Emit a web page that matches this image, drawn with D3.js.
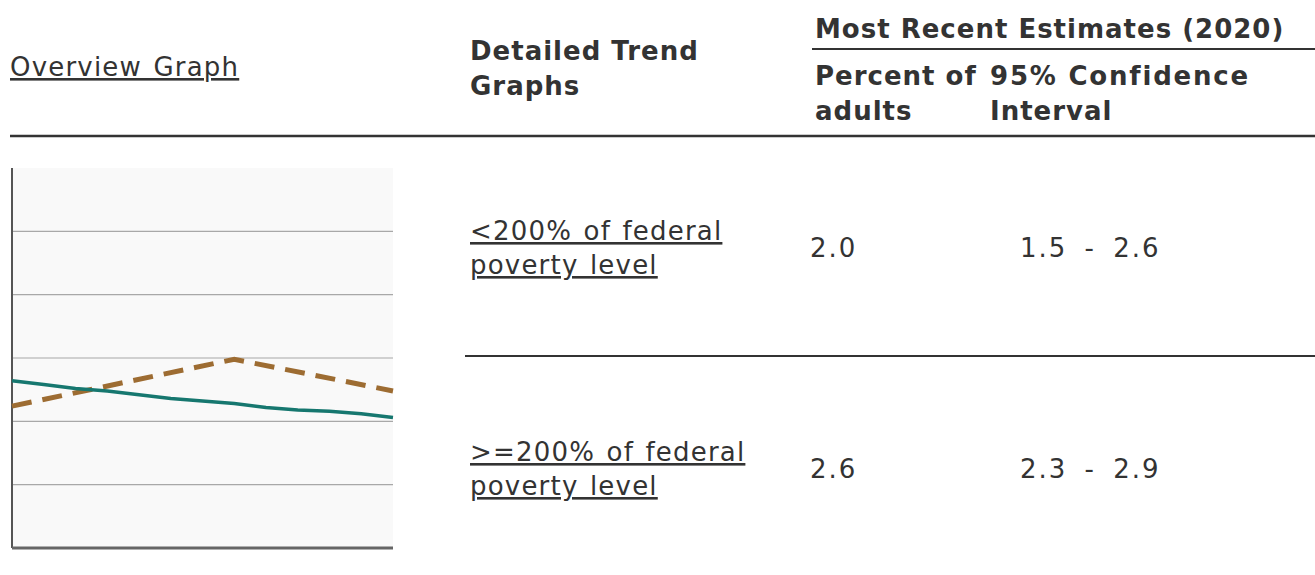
<!DOCTYPE html>
<html>
<head>
<meta charset="utf-8">
<script src="https://cdn.jsdelivr.net/npm/d3@7"></script>
<style>
  body { margin: 0; background: #fff; }
  text { font-family: "DejaVu Sans", Verdana, sans-serif; fill: #333; }
  .hdr { font-weight: bold; font-size: 26px; letter-spacing: 1px; }
  .cell { font-size: 26px; letter-spacing: 1.2px; word-spacing: 2px; }
  .ci { word-spacing: 7px; letter-spacing: 2px; }
  .link { text-decoration: underline; }
</style>
</head>
<body>
<div id="chart"></div>
<script>
// overview graph data
var years = [2008, 2009, 2010, 2011, 2012, 2013, 2014, 2015, 2016, 2017, 2018, 2019, 2020];
var solidValues = [1.32, 1.29, 1.26, 1.24, 1.21, 1.18, 1.16, 1.14, 1.11, 1.09, 1.08, 1.06, 1.03];
var dashedYears = [2008, 2015, 2020];
var dashedValues = [1.12, 1.49, 1.24];
var gridTicks = [0.5, 1, 1.5, 2, 2.5];

// table data
var groupLines = [["<200% of federal", "poverty level"], [">=200% of federal", "poverty level"]];
var percents = ["2.0", "2.6"];
var ciLow = ["1.5", "2.3"];
var ciHigh = ["2.6", "2.9"];

var svgWidth = 1315;
var svgHeight = 575;

var svg = d3.select("#chart")
    .append("svg")
    .attr("width", svgWidth)
    .attr("height", svgHeight);

// header
svg.append("text")
    .attr("class", "cell link")
    .attr("x", 10)
    .attr("y", 76)
    .text("Overview Graph");

svg.append("text").attr("class", "hdr").attr("x", 470).attr("y", 60).text("Detailed Trend");
svg.append("text").attr("class", "hdr").attr("x", 470).attr("y", 95).text("Graphs");
svg.append("text").attr("class", "hdr").attr("x", 815).attr("y", 38).text("Most Recent Estimates (2020)");
svg.append("text").attr("class", "hdr").attr("x", 815).attr("y", 85).text("Percent of");
svg.append("text").attr("class", "hdr").attr("x", 815).attr("y", 120).text("adults");
svg.append("text").attr("class", "hdr").attr("x", 990).attr("y", 85)
    .style("letter-spacing", "1.8px")
    .text("95% Confidence");
svg.append("text").attr("class", "hdr").attr("x", 990).attr("y", 120).text("Interval");

svg.append("line")
    .attr("x1", 812).attr("x2", 1315)
    .attr("y1", 49).attr("y2", 49)
    .attr("stroke", "#333").attr("stroke-width", 2);

svg.append("line")
    .attr("x1", 10).attr("x2", 1315)
    .attr("y1", 136).attr("y2", 136)
    .attr("stroke", "#333").attr("stroke-width", 2.5);

// table rows
var rowScale = d3.scalePoint()
    .domain(d3.range(groupLines.length))
    .range([247, 468]);

var rows = svg.selectAll(".row")
    .data(groupLines)
    .enter()
    .append("g")
    .attr("class", "row")
    .attr("transform", (d, i) => `translate(0, ${rowScale(i)})`);

rows.each(function(d) {
    var g = d3.select(this);
    d.forEach(function(line, j) {
        g.append("text")
            .attr("class", "cell link")
            .attr("x", 470)
            .attr("y", -7 + j * 34)
            .text(line);
    });
});

rows.append("text")
    .attr("class", "cell")
    .attr("x", 810)
    .attr("y", 10)
    .style("letter-spacing", "2px")
    .text((d, i) => percents[i]);

rows.append("text")
    .attr("class", "cell ci")
    .attr("x", 1020)
    .attr("y", 10)
    .text((d, i) => ciLow[i] + " - " + ciHigh[i]);

svg.append("line")
    .attr("x1", 465).attr("x2", 1315)
    .attr("y1", 356).attr("y2", 356)
    .attr("stroke", "#333").attr("stroke-width", 2);

// overview chart
var chart = { left: 12, right: 393, top: 168, bottom: 548 };

var xScale = d3.scaleLinear()
    .domain([d3.min(years), d3.max(years)])
    .range([chart.left, chart.right]);

var yScale = d3.scaleLinear()
    .domain([0, 3])
    .range([chart.bottom, chart.top]);

svg.append("rect")
    .attr("x", chart.left)
    .attr("y", chart.top)
    .attr("width", chart.right - chart.left)
    .attr("height", chart.bottom - chart.top)
    .attr("fill", "#f9f9f9");

svg.selectAll(".grid")
    .data(gridTicks)
    .enter()
    .append("line")
    .attr("class", "grid")
    .attr("x1", chart.left)
    .attr("x2", chart.right)
    .attr("y1", d => yScale(d))
    .attr("y2", d => yScale(d))
    .attr("stroke", "#a8a8a8")
    .attr("stroke-width", 1.2);

svg.append("line")
    .attr("x1", chart.left).attr("x2", chart.left)
    .attr("y1", chart.top).attr("y2", chart.bottom)
    .attr("stroke", "#555").attr("stroke-width", 2);

svg.append("line")
    .attr("x1", chart.left).attr("x2", chart.right)
    .attr("y1", chart.bottom).attr("y2", chart.bottom)
    .attr("stroke", "#666").attr("stroke-width", 3);

var line = d3.line()
    .x(d => xScale(d[0]))
    .y(d => yScale(d[1]));

svg.append("path")
    .datum(d3.zip(dashedYears, dashedValues))
    .attr("d", line)
    .attr("fill", "none")
    .attr("stroke", "#9d6c32")
    .attr("stroke-width", 5)
    .attr("stroke-dasharray", "20,11");

svg.append("path")
    .datum(d3.zip(years, solidValues))
    .attr("d", line)
    .attr("fill", "none")
    .attr("stroke", "#16776f")
    .attr("stroke-width", 3.5);
</script>
</body>
</html>
